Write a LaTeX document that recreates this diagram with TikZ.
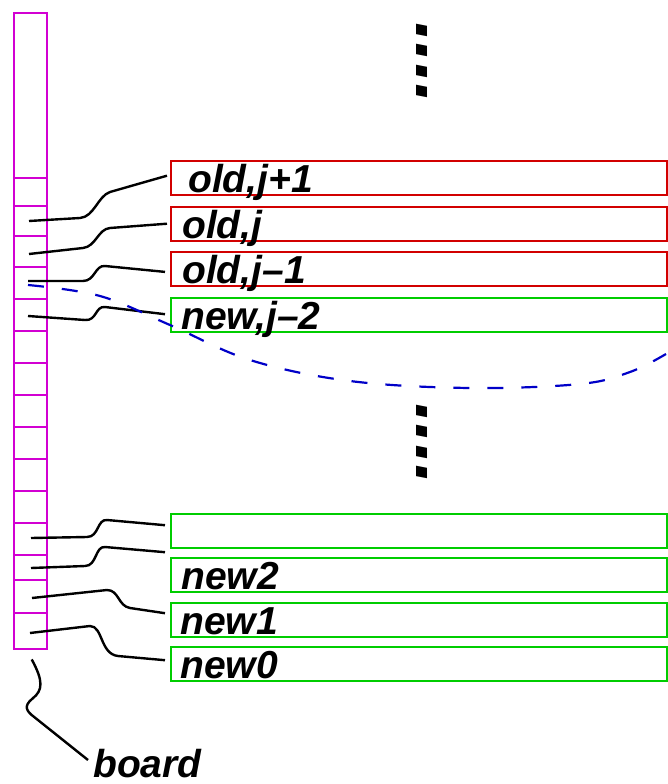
\documentclass[tikz,border=0pt]{standalone}
\usepackage{fontspec}
\usepackage{tikz}
\usetikzlibrary{positioning,calc}
\newfontfamily\helv{Liberation Sans}
\definecolor{boardmag}{RGB}{210,0,210}
\definecolor{oldred}{RGB}{210,0,0}
\definecolor{newgreen}{RGB}{0,205,0}
\definecolor{sweepblue}{RGB}{0,0,200}
\tikzset{
  cellbox/.style={rectangle, draw=boardmag, line width=2.4pt,
                  minimum width=33pt, minimum height=636pt, inner sep=0pt},
  rowbox/.style={rectangle, line width=2.4pt, inner sep=0pt,
                 minimum width=496pt, minimum height=34pt, anchor=north west},
  oldrow/.style={rowbox, draw=oldred},
  newrow/.style={rowbox, draw=newgreen},
  rowtext/.style={font=\helv\bfseries\itshape\fontsize{39}{41}\selectfont,
                  anchor=base west, inner sep=0pt},
  wire/.style={black, line width=2.4pt},
  sweep/.style={sweepblue, line width=2.2pt, dash pattern=on 16pt off 18pt},
  vdots/.style={font=\helv\bfseries\itshape\fontsize{74}{74}\selectfont,
                rotate=-90, anchor=base west, inner sep=0pt},
}

\begin{document}
\begin{tikzpicture}[x=1pt, y=-1pt]
\useasboundingbox (0,0) rectangle (668,784);

%% the board column
\node[cellbox, anchor=north west] (board) at (13,12) {};
\foreach \yy in {178,206,236,267,299,331,363,395,427,459,491,523,555,580,613}
  \draw[boardmag, line width=2.4pt] (13,\yy) -- (46,\yy);

%% cell points
\coordinate (sA) at (29,221);
\coordinate (sB) at (29,254);
\coordinate (sC) at (28,281);
\coordinate (sD) at (28,316);
\coordinate (sE) at (31,538);
\coordinate (sF) at (31,568);
\coordinate (sG) at (32,598);
\coordinate (sH) at (30,633);

%% rows
\node[oldrow] (oldA) at (170,160) {};
\node[oldrow] (oldB) at (170,206) {};
\node[oldrow] (oldC) at (170,251) {};
\node[newrow] (newD) at (170,297) {};
\node[newrow] (newE) at (170,513) {};
\node[newrow] (newF) at (170,557) {};
\node[newrow] (newG) at (170,602) {};
\node[newrow] (newH) at (170,646) {};

%% row texts
\node[rowtext] (tA) at ([shift={(18,-4)}]oldA.south west) {old,j+1};
\node[rowtext] (tB) at ([shift={(12,-4)}]oldB.south west) {old,j};
\node[rowtext] (tC) at ([shift={(12,-4)}]oldC.south west) {old,j–1};
\node[rowtext] (tD) at ([shift={(11,-4)}]newD.south west) {new,j–2};
\node[rowtext] (tF) at ([shift={(11,-4)}]newF.south west) {new2};
\node[rowtext] (tG) at ([shift={(10,-4)}]newG.south west) {new1};
\node[rowtext] (tH) at ([shift={(10,-4)}]newH.south west) {new0};

%% vertical dots
\node[vdots] (dotsU) at (416,22) {....};
\node[vdots] (dotsL) at (416,403) {....};

%% wires from cells to rows
\draw[wire] (sA) -- ++(51,-3) .. controls +(14,-1) and +(-12,4) .. ++(30,-26)
            -- ([shift={(-3,-2.5)}]oldA.west);
\draw[wire] (sB) -- ++(54,-6) .. controls +(13,-1.5) and +(-12,1) .. ++(27,-20)
            -- ([shift={(-3,-0.5)}]oldB.west);
\draw[wire] (sC) -- ++(55,0) .. controls +(12,0) and +(-10,-1) .. ++(22,-15)
            -- ([shift={(-5,2.7)}]oldC.west);
\draw[wire] (sD) -- ++(57,4) .. controls +(12,1) and +(-10,-1) .. ++(20,-13)
            -- ([shift={(-5,-1)}]newD.west);
\draw[wire] (sE) -- ++(56,-1) .. controls +(12,0) and +(-10,-1) .. ++(20,-17)
            -- ([shift={(-5,-6)}]newE.west);
\draw[wire] (sF) -- ++(54,-2) .. controls +(12,0) and +(-10,-1) .. ++(20,-19)
            -- ([shift={(-5,-23)}]newF.west);
\draw[wire] (sG) -- ++(75,-8) .. controls +(12,0) and +(-12,-2) .. ++(23,18)
            -- ([shift={(-5,-7)}]newG.west);
\draw[wire] (sH) -- ++(60,-7) .. controls +(13,0) and +(-18,-2) .. ++(28,30)
            -- ([shift={(-5,-4)}]newH.west);

%% board label
\node[rowtext] (lbB) at (93,777) {board};
\draw[wire] ([shift={(1,9)}]board.south)
            .. controls +(12,22) and +(10,-8) .. ++(1,39)
            .. controls +(-10,8) and +(-8,-6) .. ++(2,19)
            -- ([shift={(-5,-17)}]lbB.base west);

%% sweep line between old and new rows
\draw[sweep] plot[smooth, tension=0.6] coordinates
  {(28,285) (100,296) (170,325) (250,360) (350,381) (470,388)
   (580,384) (630,372) (666,354)};

\end{tikzpicture}
\end{document}
